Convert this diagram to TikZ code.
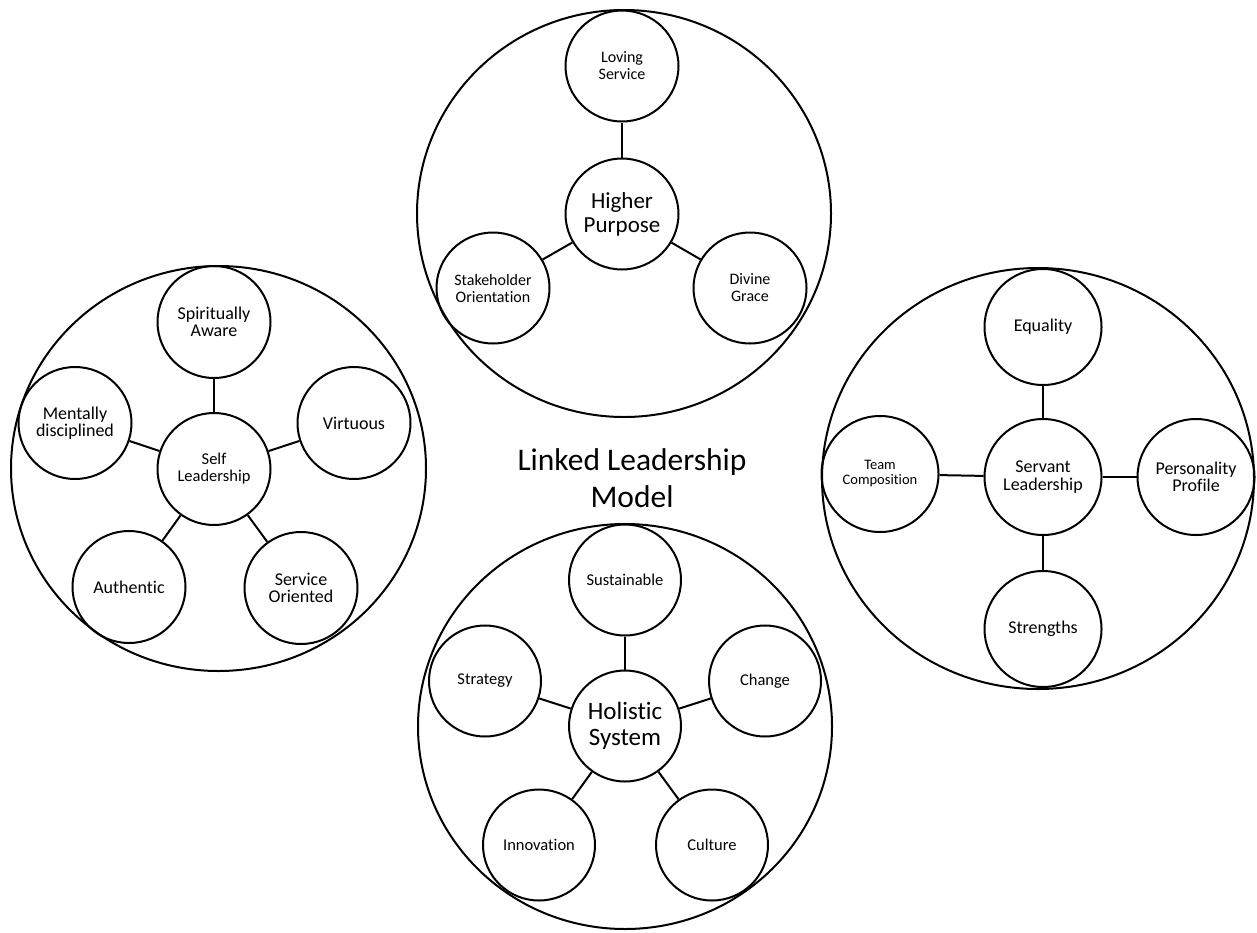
\documentclass[tikz,border=0pt]{standalone}
\usepackage{fontspec}
\setmainfont{Carlito}[Ligatures=NoCommon]
\usetikzlibrary{shapes.geometric}
\tikzset{
  ring/.style={ellipse, draw=black, line width=2pt, inner sep=0pt},
  bub/.style={ellipse, draw=black, line width=2pt, inner sep=0pt, align=center, text=black},
  conn/.style={draw=black, line width=2pt},
  ftop/.style={font=\fontsize{16}{17}\selectfont},
  ftopc/.style={font=\fontsize{23}{24}\selectfont},
  fleft/.style={font=\fontsize{18}{17}\selectfont},
  fleftc/.style={font=\fontsize{16.5}{17}\selectfont},
  fright/.style={font=\fontsize{18}{17.5}\selectfont},
  fteam/.style={font=\fontsize{14.5}{15}\selectfont},
  fbot/.style={font=\fontsize{16.5}{17}\selectfont},
  fbotc/.style={font=\fontsize{25}{26}\selectfont},
  ftitle/.style={font=\fontsize{31.5}{37}\selectfont, align=center, inner sep=0pt},
  stop/.style={bub, minimum width=113pt, minimum height=111pt},
  sleft/.style={bub, minimum width=113pt, minimum height=112pt},
  sright/.style={bub, minimum width=117pt, minimum height=116pt},
  sbot/.style={bub, minimum width=112pt, minimum height=111pt}
}
\begin{document}
\begin{tikzpicture}[x=1pt,y=-1pt]
\useasboundingbox (0,0) rectangle (1257,932);

% big rings
\node[ring, minimum width=414pt, minimum height=407pt] (bt) at (624,213.5) {};
\node[ring, minimum width=415pt, minimum height=405pt] (bl) at (218.5,468.5) {};
\node[ring, minimum width=432pt, minimum height=421pt] (br) at (1038,478.5) {};
\node[ring, minimum width=414pt, minimum height=405pt] (bb) at (625,726.5) {};

% top cluster
\node[stop, ftopc] (hp) at (622,214) {Higher\\Purpose};
\node[stop, ftop] (ls) at (622,66) {Loving\\Service};
\node[stop, ftop] (so) at (493,288) {Stakeholder\\Orientation};
\node[stop, ftop] (dg) at (750,288) {Divine\\Grace};
\draw[conn] (hp) -- (ls);
\draw[conn] (hp) -- (so);
\draw[conn] (hp) -- (dg);

% left cluster
\node[sleft, fleftc] (sl) at (214,469) {Self\\Leadership};
\node[sleft, fleft] (sa) at (214,322) {Spiritually\\Aware};
\node[sleft, fleft] (md) at (75,423) {Mentally\\disciplined};
\node[sleft, fleft] (vi) at (354,423) {Virtuous};
\node[sleft, fleft] (au) at (129,587) {Authentic};
\node[sleft, fleft] (so2) at (301,588) {Service\\Oriented};
\draw[conn] (sl) -- (sa);
\draw[conn] (sl) -- (md);
\draw[conn] (sl) -- (vi);
\draw[conn] (sl) -- (au);
\draw[conn] (sl) -- (so2);

% right cluster
\node[sright, fright] (svl) at (1043,477) {Servant\\Leadership};
\node[sright, fright] (eq) at (1043,327) {Equality};
\node[sright, fteam] (tc) at (880,474) {Team\\Composition};
\node[sright, fright] (pp) at (1196,477) {Personality\\Profile};
\node[sright, fright] (st) at (1043,629) {Strengths};
\draw[conn] (svl) -- (eq);
\draw[conn] (svl) -- (tc);
\draw[conn] (svl) -- (pp);
\draw[conn] (svl) -- (st);

% bottom cluster
\node[sbot, fbotc] (hs) at (625,726) {Holistic\\System};
\node[sbot, fbot] (su) at (625,580) {Sustainable};
\node[sbot, fbot] (sg) at (485,681) {Strategy};
\node[sbot, fbot] (ch) at (765,681) {Change};
\node[sbot, fbot] (in) at (539,845) {Innovation};
\node[sbot, fbot] (cu) at (712,845) {Culture};
\draw[conn] (hs) -- (su);
\draw[conn] (hs) -- (sg);
\draw[conn] (hs) -- (ch);
\draw[conn] (hs) -- (in);
\draw[conn] (hs) -- (cu);

% title
\node[ftitle] (title) at (632,478) {Linked Leadership\\Model};
\end{tikzpicture}
\end{document}
